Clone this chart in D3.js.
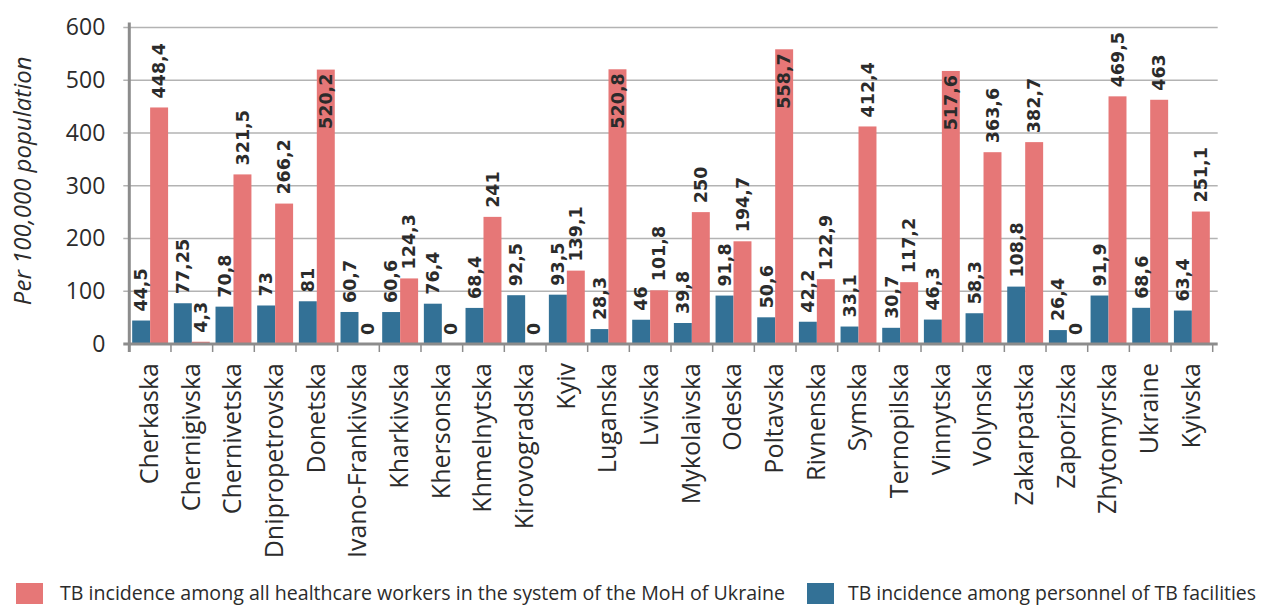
<!DOCTYPE html>
<html>
<head>
<meta charset="utf-8">
<script src="https://cdn.jsdelivr.net/npm/d3@7/dist/d3.min.js"></script>
<style>
  body { margin: 0; background: #fff; }
  svg text { fill: #2b2b2b; }
</style>
</head>
<body>
<div id="chart"></div>
<script>

var regions = ["Cherkaska","Chernigivska","Chernivetska","Dnipropetrovska","Donetska",
  "Ivano-Frankivska","Kharkivska","Khersonska","Khmelnytska","Kirovogradska","Kyiv",
  "Luganska","Lvivska","Mykolaivska","Odeska","Poltavska","Rivnenska","Symska",
  "Ternopilska","Vinnytska","Volynska","Zakarpatska","Zaporizska","Zhytomyrska",
  "Ukraine","Kyivska"];

// personnel of TB facilities (blue, left bar)
var tbFacilities = [44.5,77.25,70.8,73,81,60.7,60.6,76.4,68.4,92.5,93.5,28.3,46,39.8,
  91.8,50.6,42.2,33.1,30.7,46.3,58.3,108.8,26.4,91.9,68.6,63.4];

// all healthcare workers of the MoH (red, right bar)
var allWorkers = [448.4,4.3,321.5,266.2,520.2,0,124.3,0,241,0,139.1,520.8,101.8,250,
  194.7,558.7,122.9,412.4,117.2,517.6,363.6,382.7,0,469.5,463,251.1];

var yTicks = [0,100,200,300,400,500,600];

var seriesKeys   = ["tb","all"];
var seriesNames  = ["TB incidence among all healthcare workers in the system of the MoH of Ukraine",
                    "TB incidence among personnel of TB facilities"];
var seriesColors = {tb: "#337196", all: "#e67777"};

var yTitle = "Per 100,000 population";


var width  = 1261;
var height = 608;
var plot   = {left: 129.3, right: 1212.7, top: 27.5, bottom: 344};

var svg = d3.select("#chart")
  .append("svg")
    .attr("width", width)
    .attr("height", height);

var x0 = d3.scaleBand()
  .domain(regions)
  .range([plot.left, plot.right])
  .padding(0);

var x1 = d3.scaleBand()
  .domain(seriesKeys)
  .range([0, x0.bandwidth()])
  .paddingInner(0)
  .paddingOuter(0.16);

var y = d3.scaleLinear()
  .domain([0, 600])
  .range([plot.bottom, plot.top]);

var rows = regions.map(function(r, i){
  return {region: r, tb: tbFacilities[i], all: allWorkers[i]};
});

function fmt(v){ return String(v).replace(".", ","); }

//......................... Grid ..............................................
svg.append("g")
  .attr("class", "grid")
  .selectAll("line")
  .data(yTicks.filter(function(t){ return t > 0; }))
  .enter()
  .append("line")
    .attr("x1", plot.left - 6)
    .attr("x2", plot.right + 5)
    .attr("y1", function(d){ return y(d); })
    .attr("y2", function(d){ return y(d); })
    .attr("stroke", "#b3b3b3")
    .attr("stroke-width", 1.5);
//-----------------------------------------------------------------------------

//......................... Bars ..............................................
var groups = svg.append("g")
  .attr("class", "bars")
  .selectAll("g")
  .data(rows)
  .enter()
  .append("g")
    .attr("transform", function(d){ return "translate(" + x0(d.region) + ",0)"; });

groups.selectAll("rect")
  .data(function(d){ return seriesKeys.map(function(k){ return {key: k, value: d[k]}; }); })
  .enter()
  .append("rect")
    .attr("x", function(d){ return x1(d.key); })
    .attr("y", function(d){ return y(d.value); })
    .attr("width", x1.bandwidth())
    .attr("height", function(d){ return y(0) - y(d.value); })
    .attr("fill", function(d){ return seriesColors[d.key]; });

// value labels, rotated; go inside the bar if they would run past the top
groups.selectAll("text")
  .data(function(d){ return seriesKeys.map(function(k){ return {key: k, value: d[k]}; }); })
  .enter()
  .append("text")
    .attr("font-family", "DejaVu Sans")
    .attr("font-weight", "bold")
    .attr("font-size", 17.5)
    .attr("dy", "0.36em")
    .text(function(d){ return fmt(d.value); })
    .each(function(d){
      var t   = d3.select(this);
      var len = this.getComputedTextLength();
      var top = y(d.value);
      var cx  = x1(d.key) + x1.bandwidth() / 2;
      if (top - 9 - len < plot.top){
        t.attr("text-anchor", "end")
         .attr("transform", "translate(" + cx + "," + (top + 4) + ") rotate(-90)");
      } else {
        t.attr("text-anchor", "start")
         .attr("transform", "translate(" + cx + "," + (top - 9) + ") rotate(-90)");
      }
    });
//-----------------------------------------------------------------------------

//......................... Axes ..............................................
var yAxis = svg.append("g")
  .attr("class", "y-axis")
  .attr("transform", "translate(" + plot.left + ",0)")
  .call(d3.axisLeft(y).tickValues(yTicks).tickSize(0).tickPadding(24));
yAxis.select(".domain").remove();
yAxis.selectAll("text")
  .attr("font-family", "Open Sans")
  .attr("font-size", 23)
  .attr("fill", "#2b2b2b");

svg.append("line")
  .attr("x1", plot.left)
  .attr("x2", plot.left)
  .attr("y1", plot.top - 5)
  .attr("y2", plot.bottom + 8)
  .attr("stroke", "#8c8c8c")
  .attr("stroke-width", 3);

svg.append("line")
  .attr("x1", plot.left - 6)
  .attr("x2", plot.right + 5)
  .attr("y1", plot.bottom)
  .attr("y2", plot.bottom)
  .attr("stroke", "#8c8c8c")
  .attr("stroke-width", 3);

// category boundary ticks
svg.append("g")
  .attr("class", "x-ticks")
  .selectAll("line")
  .data(regions.concat(["end"]))
  .enter()
  .append("line")
    .attr("x1", function(d, i){ return plot.left + i * x0.step(); })
    .attr("x2", function(d, i){ return plot.left + i * x0.step(); })
    .attr("y1", plot.bottom)
    .attr("y2", plot.bottom + 8)
    .attr("stroke", "#8c8c8c")
    .attr("stroke-width", 1.5);

var xAxis = svg.append("g")
  .attr("class", "x-axis")
  .attr("transform", "translate(0," + plot.bottom + ")")
  .call(d3.axisBottom(x0).tickSize(0));
xAxis.select(".domain").remove();
xAxis.selectAll("text")
  .attr("font-family", "Open Sans")
  .attr("font-size", 25)
  .attr("fill", "#2b2b2b")
  .attr("text-anchor", "end")
  .attr("dy", "0.35em")
  .attr("y", 0)
  .attr("transform", "translate(-1,19) rotate(-90)");

svg.append("text")
  .attr("font-family", "Open Sans")
  .attr("font-style", "italic")
  .attr("font-size", 24)
  .attr("text-anchor", "middle")
  .attr("transform", "translate(31," + ((plot.top + plot.bottom) / 2 - 5) + ") rotate(-90)")
  .text(yTitle);
//-----------------------------------------------------------------------------

//......................... Legend ............................................
var legendOrder = ["all","tb"];
var legendX     = [16, 807];
var legendLen   = [725, 408];

var legend = svg.append("g")
  .attr("class", "legend")
  .selectAll("g")
  .data(legendOrder)
  .enter()
  .append("g")
    .attr("transform", function(d, i){ return "translate(" + legendX[i] + ",583)"; });

legend.append("rect")
  .attr("width", 27)
  .attr("height", 21)
  .attr("fill", function(d){ return seriesColors[d]; });

legend.append("text")
  .attr("x", function(d, i){ return i == 0 ? 44 : 41; })
  .attr("y", 17)
  .attr("font-family", "Open Sans")
  .attr("font-size", 19.5)
  .attr("fill", "#2b2b2b")
  .attr("textLength", function(d, i){ return legendLen[i]; })
  .attr("lengthAdjust", "spacingAndGlyphs")
  .text(function(d, i){ return seriesNames[i]; });
//-----------------------------------------------------------------------------

</script>
</body>
</html>
